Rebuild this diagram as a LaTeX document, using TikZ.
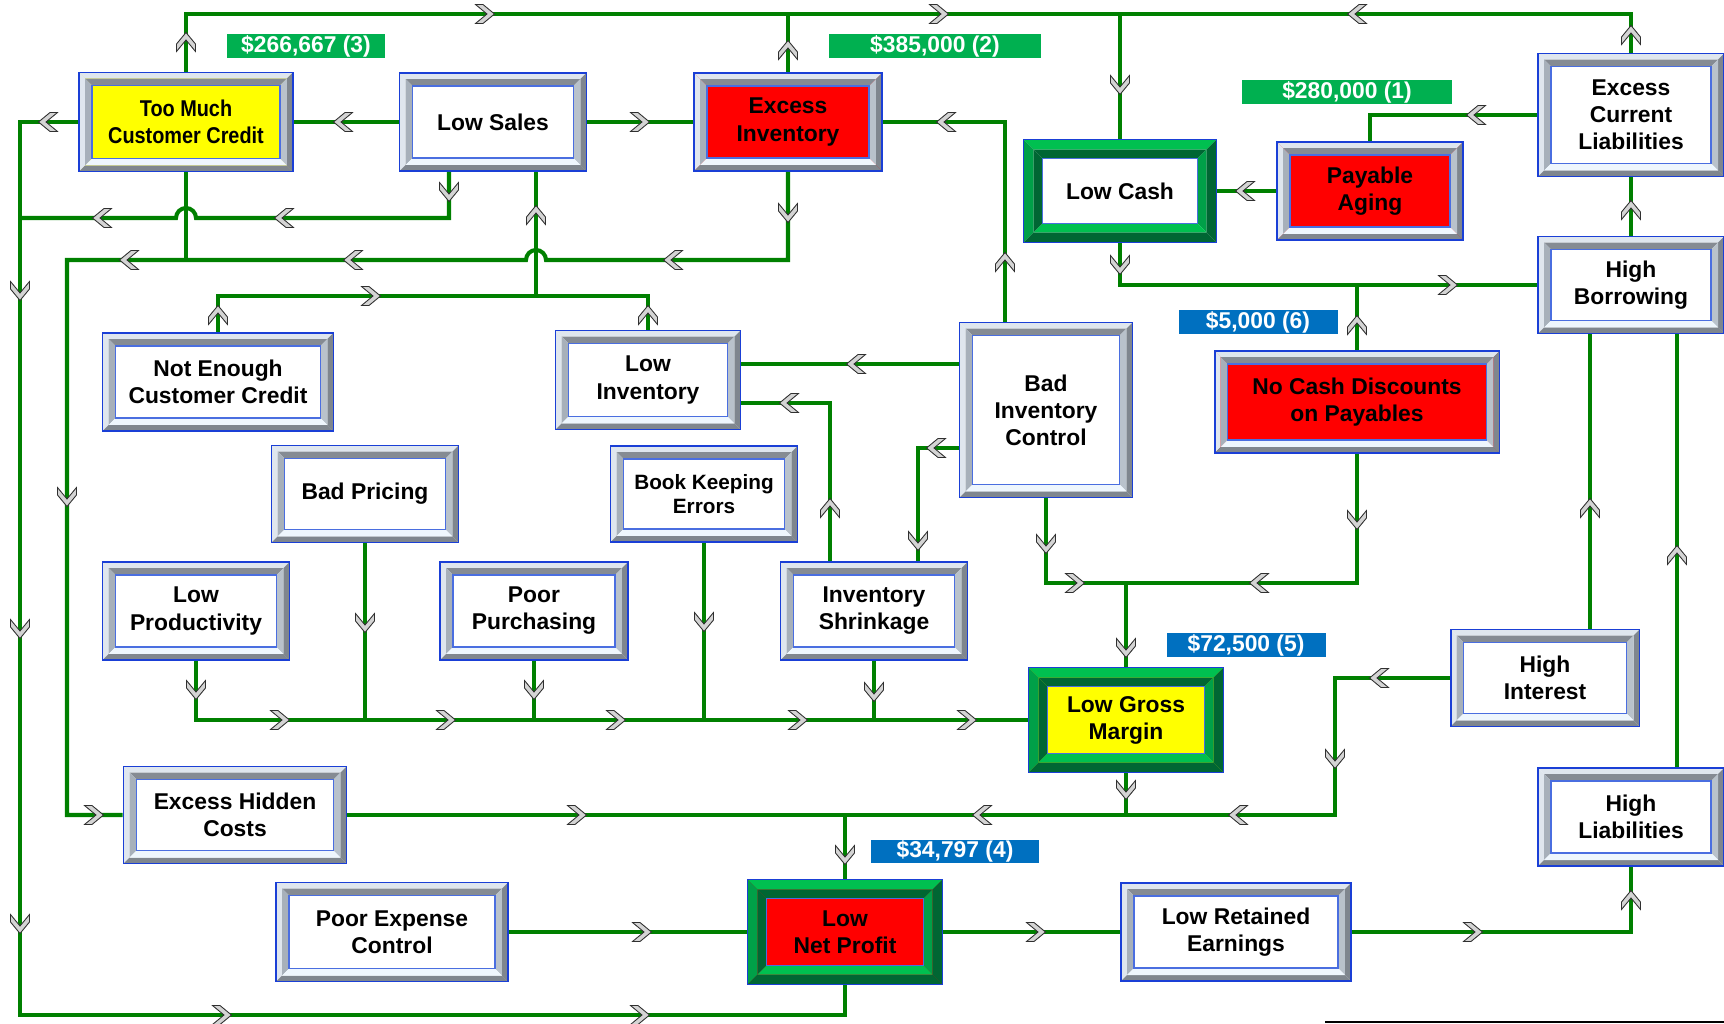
\documentclass[tikz,border=0pt]{standalone}
\usepackage{fontspec}
\setmainfont{Liberation Sans}
\usepackage{graphicx}
\usepackage{tikz}
\usetikzlibrary{calc}
\definecolor{linkgreen}{HTML}{008000}
\definecolor{rimblue}{HTML}{1a3fd6}
\definecolor{innerblue}{HTML}{4a6ee0}
\definecolor{alarmred}{HTML}{ff0000}
\definecolor{warnyellow}{HTML}{ffff00}
\definecolor{tagreen}{HTML}{00b050}
\definecolor{tagblue}{HTML}{0070c0}
\definecolor{chevfill}{HTML}{d4d4d4}
\definecolor{chevedge}{HTML}{303030}
\definecolor{greyhi}{HTML}{dfe6ee}
\definecolor{greylo}{HTML}{7f868e}
\definecolor{greytop}{HTML}{858b93}
\definecolor{greyleft}{HTML}{a7b0ba}
\definecolor{greyright}{HTML}{b9c2cb}
\definecolor{greybot}{HTML}{eef6fd}
\definecolor{greenhi}{HTML}{00c050}
\definecolor{greenmid}{HTML}{00a048}
\definecolor{greendark}{HTML}{006633}
\newcommand\diagfont{\bfseries\fontsize{13}{15.4}\selectfont}
\newcommand\narrowtext[1]{\scalebox{0.87}[1]{#1}}
% one ring of a bevelled frame: inset, width, top, left, right, bottom
\newcommand\bevelring[6]{%
  \path (path picture bounding box.north west) ++(#1,-#1) coordinate (bvA)
        (path picture bounding box.south east) ++(-#1,#1) coordinate (bvC);
  \fill[#3] (bvA) -- (bvA -| bvC) -- ++(-#2,-#2) -- ($(bvA)+(#2,-#2)$) -- cycle;
  \fill[#4] (bvA) -- (bvA |- bvC) -- ++(#2,#2) -- ($(bvA)+(#2,-#2)$) -- cycle;
  \fill[#5] (bvA -| bvC) -- (bvC) -- ++(-#2,#2) -- ($(bvA -| bvC)+(-#2,-#2)$) -- cycle;
  \fill[#6] (bvA |- bvC) -- (bvC) -- ++(-#2,#2) -- ($(bvA |- bvC)+(#2,#2)$) -- cycle;
}

\begin{document}
\begin{tikzpicture}[x=0.02cm, y=-0.02cm,
  cell/.style={draw=rimblue, line width=1.1pt, fill=white, align=center, inner sep=0pt,
    minimum width=3.74cm, minimum height=1.96cm, font=\diagfont},
  box/.style={cell, path picture={
    \bevelring{0cm}{0.12cm}{greyhi}{greyhi}{greylo}{greylo}
    \bevelring{0.12cm}{0.14cm}{greytop}{greyleft}{greyright}{greybot}
    \draw[innerblue, line width=0.9pt] ($(path picture bounding box.north west)+(0.26cm,-0.26cm)$)
      rectangle ($(path picture bounding box.south east)+(-0.26cm,0.26cm)$);}},
  hot/.style={cell, minimum width=3.9cm, minimum height=2.1cm, path picture={
    \bevelring{0cm}{0.2cm}{greenhi}{greenmid}{greendark}{greendark}
    \bevelring{0.2cm}{0.18cm}{greendark}{greendark}{greenmid}{greenhi}
    \draw[innerblue, line width=0.9pt] ($(path picture bounding box.north west)+(0.38cm,-0.38cm)$)
      rectangle ($(path picture bounding box.south east)+(-0.38cm,0.38cm)$);}},
  tag/.style={text=white, font=\diagfont, inner sep=0pt, minimum width=3.18cm, minimum height=0.48cm},
  link/.style={draw=linkgreen, line width=2.3pt},
  chev/.pic={\filldraw[fill=chevfill, draw=chevedge, line width=0.5pt]
    (-0.19cm,0.19cm) -- (-0.04cm,0.19cm) -- (0.19cm,0cm) -- (-0.04cm,-0.19cm)
    -- (-0.19cm,-0.19cm) -- (0.04cm,0cm) -- cycle;},
]
\useasboundingbox (0,0) rectangle (1724,1024);

\node[box, fill=warnyellow, minimum width=4.28cm, minimum height=1.98cm] (tmcc) at (186,122) {\narrowtext{Too Much}\\\narrowtext{Customer Credit}};
\node[box] (lowsales) at (493,122) {Low Sales};
\node[box, fill=alarmred, minimum width=3.76cm] (exinv) at (788,122) {Excess\\Inventory};
\node[hot, minimum width=3.86cm, minimum height=2.06cm] (lowcash) at (1120,191) {Low Cash};
\node[box, fill=alarmred, minimum width=3.72cm] (payaging) at (1370,191) {Payable\\Aging};
\node[box, minimum width=3.72cm, minimum height=2.46cm] (excl) at (1631,115) {Excess\\Current\\Liabilities};
\node[box, minimum width=3.72cm, minimum height=1.94cm] (hborrow) at (1631,285) {High\\Borrowing};
\node[box, fill=alarmred, minimum width=5.7cm, minimum height=2.04cm] (nocash) at (1357,402) {No Cash Discounts\\on Payables};
\node[box, minimum width=3.46cm, minimum height=3.5cm] (bic) at (1046,410) {Bad\\Inventory\\Control};
\node[box, minimum width=3.7cm, minimum height=1.98cm] (lowinv) at (648,380) {Low\\Inventory};
\node[box, minimum width=4.62cm] (necc) at (218,382) {Not Enough\\Customer Credit};
\node[box, minimum height=1.94cm] (badpricing) at (365,494) {Bad Pricing};
\node[box, minimum height=1.92cm, font=\bfseries\fontsize{11.8}{13.7}\selectfont] (bookkeep) at (704,494) {Book Keeping\\Errors};
\node[box] (lowprod) at (196,611) {Low\\Productivity};
\node[box, minimum width=3.76cm] (poorpurch) at (534,611) {Poor\\Purchasing};
\node[box] (shrink) at (874,611) {Inventory\\Shrinkage};
\node[hot, fill=warnyellow] (lgm) at (1126,720) {Low Gross\\Margin};
\node[box, minimum width=3.78cm, minimum height=1.94cm] (hinterest) at (1545,678) {High\\Interest};
\node[box, minimum width=3.72cm] (hliab) at (1631,817) {High\\Liabilities};
\node[box, minimum width=4.46cm, minimum height=1.94cm] (ehc) at (235,815) {Excess Hidden\\Costs};
\node[box, minimum width=4.64cm, minimum height=1.98cm] (pec) at (392,932) {Poor Expense\\Control};
\node[hot, fill=alarmred] (lnp) at (845,932) {Low\\Net Profit};
\node[box, minimum width=4.6cm] (lre) at (1236,932) {Low Retained\\Earnings};

\node[tag, fill=tagreen] (amt3) at (306,46) {\$266,667 (3)};
\node[tag, fill=tagreen, minimum width=4.24cm] (amt2) at (935,46) {\$385,000 (2)};
\node[tag, fill=tagreen, minimum width=4.22cm] (amt1) at (1347,92) {\$280,000 (1)};
\node[tag, fill=tagblue] (amt6) at (1258,322) {\$5,000 (6)};
\node[tag, fill=tagblue] (amt5) at (1246,645) {\$72,500 (5)};
\node[tag, fill=tagblue, minimum width=3.38cm, minimum height=0.46cm] (amt4) at (955,851) {\$34,797 (4)};

\draw[link] (tmcc.north) -- (tmcc.north |- 0,14) -| (excl.north);
\draw[link] (exinv.north) -- (exinv.north |- 0,14);
\draw[link] (lowcash.north |- 0,14) -- (lowcash.north);
\draw[link] (lowsales) -- (tmcc);
\draw[link] (lowsales) -- (exinv);
\draw[link] (tmcc.west) -| (20,1015) -| (lnp.south);
\draw[link] (449,0 |- lowsales.south) |- (196,218) arc[start angle=0, end angle=180, radius=0.2cm] -- (20,218);
\draw[link] (tmcc.south) -- (tmcc.south |- 0,260);
\draw[link] (exinv.south) |- (546,260) arc[start angle=0, end angle=180, radius=0.2cm] -- (67,260) |- (ehc.west);
\draw[link] (necc.north) |- (lowinv.north |- 0,296) -- (lowinv.north);
\draw[link] (536,296) -- (536,0 |- lowsales.south);
\draw[link] (1005,0 |- bic.north) |- (exinv.east);
\draw[link] (bic.west |- 0,364) -- (lowinv.east |- 0,364);
\draw[link] (bic.west |- 0,448) -| (918,0 |- shrink.north);
\draw[link] (830,0 |- shrink.north) |- (lowinv.east |- 0,403);
\draw[link] (bic.south) |- (lgm.north |- 0,583) -- (lgm.north);
\draw[link] (nocash.south) |- (lgm.north |- 0,583);
\draw[link] (lowcash.south) |- (hborrow.west);
\draw[link] (nocash.north) -- (nocash.north |- hborrow.west);
\draw[link] (payaging) -- (lowcash);
\draw[link] (excl.west) -| (payaging.north);
\draw[link] (hborrow) -- (excl);
\draw[link] (1590,0 |- hinterest.north) -- (1590,0 |- hborrow.south);
\draw[link] (1677,0 |- hliab.north) -- (1677,0 |- hborrow.south);
\draw[link] (hinterest.west) -| (1335,815) -- (lnp.north |- 0,815);
\draw[link] (lgm.south) -- (lgm.south |- 0,815);
\draw[link] (ehc.east) -- (lnp.north |- ehc.east) -- (lnp.north);
\draw[link] (lowprod.south) |- (lgm.west);
\draw[link] (badpricing.south) -- (badpricing.south |- lgm.west);
\draw[link] (poorpurch.south) -- (poorpurch.south |- lgm.west);
\draw[link] (bookkeep.south) -- (bookkeep.south |- lgm.west);
\draw[link] (shrink.south) -- (shrink.south |- lgm.west);
\draw[link] (pec) -- (lnp);
\draw[link] (lnp) -- (lre);
\draw[link] (lre) -| (hliab.south);
\draw[line width=1pt] (1325,1022) -- (1724,1022);

\foreach \x/\y in {186/42, 1631/35, 788/50, 218/315, 648/315, 536/215, 1005/262, 830/508,
  1357/325, 1631/210, 1590/508, 1677/555, 1631/900}
  \pic[rotate=90] at (\x,\y) {chev};
\foreach \x/\y in {1120/85, 20/291, 20/629, 20/924, 449/192, 788/213, 67/497, 918/541, 1046/544,
  1357/520, 1126/648, 1120/265, 1335/759, 1126/790, 845/855, 196/690, 365/623, 534/690, 704/622, 874/692}
  \pic[rotate=-90] at (\x,\y) {chev};
\foreach \x/\y in {485/14, 939/14, 640/122, 222/1015, 640/1015, 94/815, 371/296, 1075/583, 1448/285,
  577/815, 280/720, 446/720, 616/720, 798/720, 967/720, 642/932, 1036/932, 1473/932}
  \pic at (\x,\y) {chev};
\foreach \x/\y in {1357/14, 343/122, 48/122, 946/122, 284/218, 102/218, 673/260, 353/260, 129/260,
  856/364, 936/448, 789/403, 1259/583, 1245/191, 1476/115, 1379/678, 1238/815, 982/815}
  \pic[rotate=180] at (\x,\y) {chev};
\end{tikzpicture}
\end{document}
